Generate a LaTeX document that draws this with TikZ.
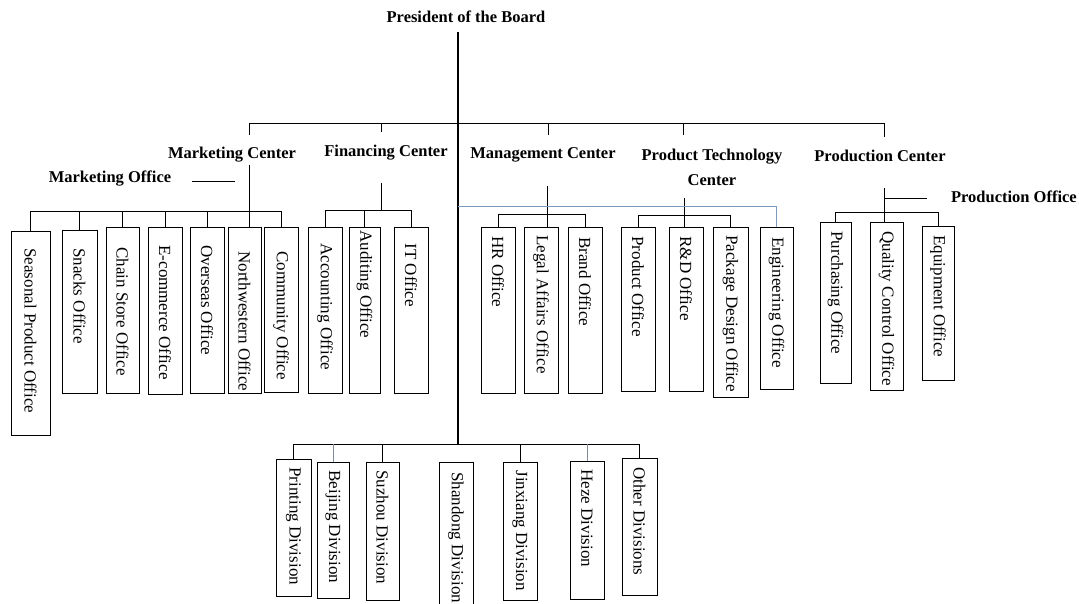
\documentclass[tikz,border=0pt]{standalone}
\usepackage{fontspec}
\setmainfont{Liberation Serif}
\definecolor{linkblue}{RGB}{122,156,190}
\definecolor{tickgray}{RGB}{130,140,150}
\newcommand{\orgbox}[7]{%
  \pgfmathsetmacro{\obW}{#4-#2}%
  \pgfmathsetmacro{\obH}{#5-#3}%
  \pgfmathsetmacro{\obX}{(#2+#4)/2}%
  \node[obox, minimum width=\obH pt, minimum height=\obW pt] (#1) at (\obX,#3)
    {\makebox[\obH pt][l]{\hspace*{#6pt}#7}};}
\begin{document}
\begin{tikzpicture}[x=1pt,y=-1pt,
  hdr/.style={font=\fontsize{16.5}{25}\selectfont\bfseries, inner sep=0pt},
  obox/.style={draw, line width=0.9pt, rotate=-90, inner sep=0pt, anchor=west,
               font=\fontsize{17}{20}\selectfont},
  conn/.style={line width=0.9pt},
  mainline/.style={line width=1.8pt},
  blueconn/.style={line width=0.9pt, draw=linkblue},
  grayconn/.style={line width=0.9pt, draw=tickgray}]
\useasboundingbox (0,0) rectangle (1079,604);
\fill[white] (0,0) rectangle (1079,604);

% ---------- headers ----------
\node[hdr] (pres) at (466,17) {President of the Board};
\node[hdr] (mkt)  at (232,155) {Marketing Center};
\node[hdr] (mkto) at (110,179) {Marketing Office};
\node[hdr] (fin)  at (386,153) {Financing Center};
\node[hdr] (mgmt) at (543,155) {Management Center};
\node[hdr, align=center] (ptc) at (712,167) {Product Technology\\Center};
\node[hdr] (prc)  at (880,156) {Production Center};
\node[hdr, anchor=east] (prco) at (1077,197) {Production Office};

% ---------- boxes ----------
\orgbox{seas}{11}{231}{50}{435}{17}{Seasonal Product Office}
\orgbox{snack}{62}{230}{97}{393}{18}{Snacks Office}
\orgbox{chain}{106}{227}{139}{393}{20}{Chain Store Office}
\orgbox{ecom}{148}{227}{182}{394}{18}{E-commerce Office}
\orgbox{overs}{190}{227}{224}{393}{18}{Overseas Office}
\orgbox{nw}{228}{227}{261}{393}{24}{Northwestern Office}
\orgbox{comm}{264}{227}{298}{392}{24}{Community Office}

\orgbox{acc}{308}{227}{342}{393}{16}{Accounting Office}
\orgbox{aud}{349}{227}{380}{393}{3}{Auditing Office}
\orgbox{itof}{394}{227}{428}{393}{16}{IT Office}

\orgbox{hr}{481}{227}{515}{393}{9}{HR Office}
\orgbox{legal}{524}{227}{558}{393}{8}{Legal Affairs Office}
\orgbox{brand}{568}{227}{602}{393}{10}{Brand Office}

\orgbox{prod}{621}{227}{655}{391}{9}{Product Office}
\orgbox{rd}{669}{227}{703}{391}{9}{R\&D Office}
\orgbox{pkg}{713}{227}{748}{397}{8}{Package Design Office}
\orgbox{eng}{760}{227}{793}{389}{10}{Engineering Office}

\orgbox{purch}{820}{222}{851}{383}{9}{Purchasing Office}
\orgbox{qc}{870}{222}{903}{390}{9}{Quality Control Office}
\orgbox{equip}{922}{226}{954}{380}{9}{Equipment Office}

\orgbox{print}{276}{459}{311}{596}{8}{Printing Division}
\orgbox{beij}{317}{462}{349}{598}{8}{Beijing Division}
\orgbox{suz}{366}{462}{399}{600}{8}{Suzhou Division}
\orgbox{shan}{439}{462}{473}{610}{10}{Shandong Division}
\orgbox{jinx}{503}{462}{537}{600}{8}{Jinxiang Division}
\orgbox{heze}{570}{461}{604}{599}{8}{Heze Division}
\orgbox{other}{622}{458}{657}{595}{9}{Other Divisions}

% ---------- coordinates ----------
\coordinate (mainTop) at (458,32);
\coordinate (divBus) at (458,444);
\coordinate (topBusL) at (249,123);
\coordinate (topBusR) at (884,123);
\coordinate (mktTop) at (249,165);
\coordinate (mktBus) at (0,211);
\coordinate (mkoL) at (192,181);
\coordinate (mkoR) at (235,181);
\coordinate (finTop) at (381,183);
\coordinate (finTick) at (381,132);
\coordinate (finBus) at (0,210);
\coordinate (mgTop) at (547,186);
\coordinate (mgTick) at (548,135);
\coordinate (mgBus) at (0,214);
\coordinate (ptTop) at (684,198);
\coordinate (ptTick) at (683,135);
\coordinate (ptBus) at (0,215);
\coordinate (blueL) at (458,206);
\coordinate (prTop) at (884,188);
\coordinate (prTick) at (884,137);
\coordinate (prBranch) at (884,198);
\coordinate (prOffEnd) at (927,198);
\coordinate (prBus) at (0,212);

% ---------- main trunk and top bus ----------
\draw[mainline] (mainTop) -- (divBus);
\draw[conn] (249,135) -- (topBusL) -- (topBusR) -- (prTick);
\draw[conn] (finTick) -- (finTick |- topBusL);
\draw[conn] (mgTick) -- (mgTick |- topBusL);
\draw[conn] (ptTick) -- (ptTick |- topBusL);

% ---------- marketing ----------
\draw[conn] (mktTop) -- (mktTop |- nw.west);
\draw[conn] (mkoL) -- (mkoR);
\draw[conn] (seas.west |- mktBus) -- (comm.west |- mktBus);
\foreach \b in {seas,snack,chain,ecom,overs,comm}
  \draw[conn] (\b.west) -- (\b.west |- mktBus);

% ---------- financing ----------
\draw[conn] (finTop) -- (finTop |- finBus);
\draw[conn] (acc.west |- finBus) -- (itof.west |- finBus);
\foreach \b in {acc,aud,itof}
  \draw[conn] (\b.west) -- (\b.west |- finBus);

% ---------- management ----------
\draw[conn] (mgTop) -- (mgTop |- legal.west);
\draw[conn] (hr.west |- mgBus) -- (brand.west |- mgBus);
\foreach \b in {hr,brand}
  \draw[conn] (\b.west) -- (\b.west |- mgBus);

% ---------- product technology ----------
\draw[conn] (ptTop) -- (ptTop |- rd.west);
\draw[conn] (prod.west |- ptBus) -- (pkg.west |- ptBus);
\foreach \b in {prod,pkg}
  \draw[conn] (\b.west) -- (\b.west |- ptBus);
\draw[blueconn] (blueL) -- (blueL -| eng.west) -- (eng.west);

% ---------- production ----------
\draw[conn] (prTop) -- (prTop |- qc.west);
\draw[conn] (prBranch) -- (prOffEnd);
\draw[conn] (purch.west |- prBus) -- (equip.west |- prBus);
\foreach \b in {purch,equip}
  \draw[conn] (\b.west) -- (\b.west |- prBus);

% ---------- divisions ----------
\draw[conn] (print.west |- divBus) -- (other.west |- divBus);
\foreach \b in {print,suz,jinx,other}
  \draw[conn] (\b.west) -- (\b.west |- divBus);
\foreach \b in {beij,heze}
  \draw[grayconn] (\b.west) -- (\b.west |- divBus);
\end{tikzpicture}
\end{document}
